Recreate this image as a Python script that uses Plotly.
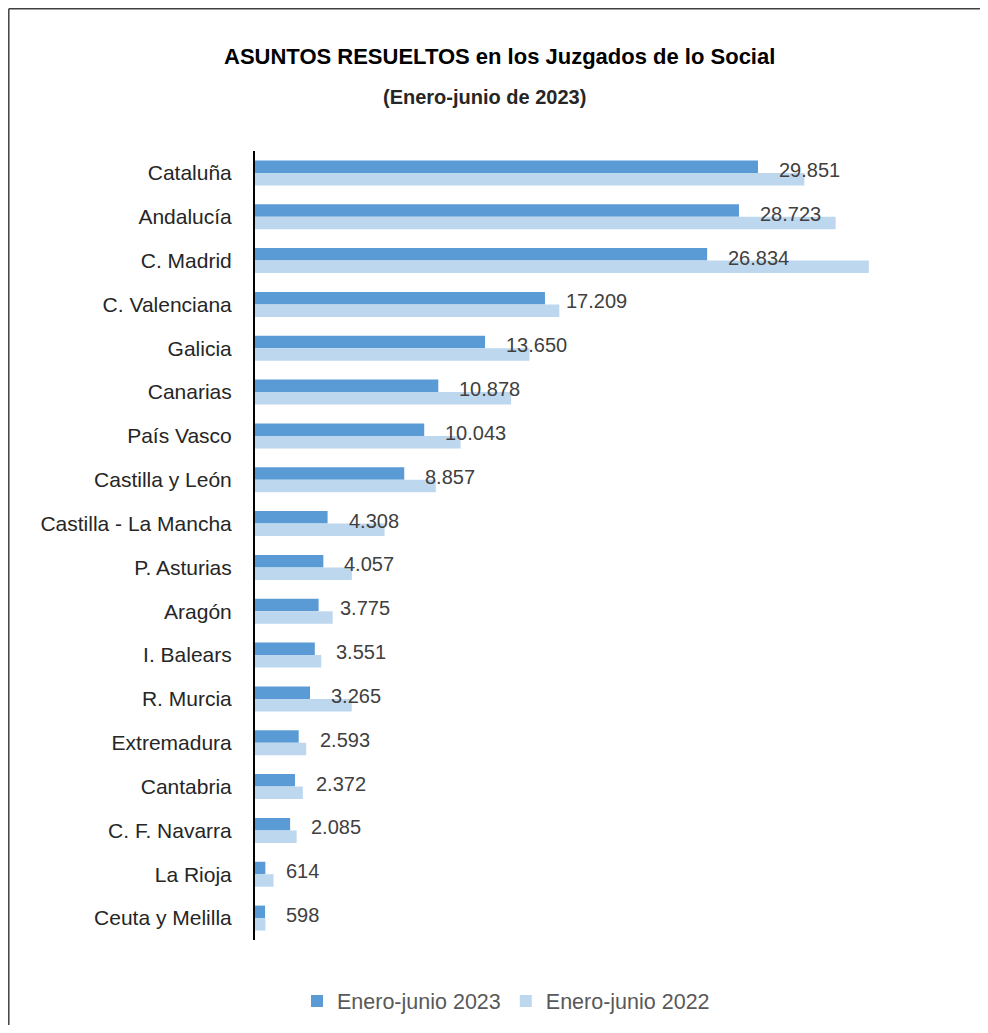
import plotly.graph_objects as go

categories = ["Cataluña", "Andalucía", "C. Madrid", "C. Valenciana", "Galicia", "Canarias",
              "País Vasco", "Castilla y León", "Castilla - La Mancha", "P. Asturias", "Aragón",
              "I. Balears", "R. Murcia", "Extremadura", "Cantabria", "C. F. Navarra",
              "La Rioja", "Ceuta y Melilla"]
v2023 = [29851, 28723, 26834, 17209, 13650, 10878, 10043, 8857, 4308, 4057, 3775,
         3551, 3265, 2593, 2372, 2085, 614, 598]
v2022 = [32600, 34460, 36430, 18060, 16290, 15200, 12200, 10730, 7690, 5750, 4610,
         3930, 5740, 3040, 2840, 2470, 1100, 620]
labels2023 = ["29.851", "28.723", "26.834", "17.209", "13.650", "10.878", "10.043", "8.857",
              "4.308", "4.057", "3.775", "3.551", "3.265", "2.593", "2.372", "2.085", "614", "598"]

# page is offset by 8px body margin
OFF = 8
W, H = 972, 1017
L, T = 255 - OFF, 151 - OFF
R, B = W - (929 - OFF), H - (940 - OFF)
pw, ph = W - L - R, H - T - B


def px(xpage):
    return (xpage - OFF - L) / pw


def py(ypage):
    return (H - B - (ypage - OFF)) / ph


FONT = "Liberation Sans, Arial, sans-serif"

fig = go.Figure()
fig.add_trace(go.Bar(y=categories, x=v2023, orientation="h", name="Enero-junio 2023",
                     marker=dict(color="#5B9BD5", line=dict(width=0))))
fig.add_trace(go.Bar(y=categories, x=v2022, orientation="h", name="Enero-junio 2022",
                     marker=dict(color="#BDD7EE", line=dict(width=0))))

annotations = []
for c, v, t in zip(categories, v2023, labels2023):
    annotations.append(dict(x=v, y=c, xref="x", yref="y", text=t, showarrow=False,
                            xanchor="left", yanchor="middle", xshift=19, yshift=3,
                            font=dict(size=20, color="#404040", family=FONT)))

annotations.append(dict(x=px(499), y=py(57), xref="paper", yref="paper",
                        text="<b>ASUNTOS RESUELTOS en los Juzgados de lo Social</b>",
                        showarrow=False, xanchor="center", yanchor="middle",
                        font=dict(size=22, color="#000000", family=FONT)))
annotations.append(dict(x=px(484), y=py(97), xref="paper", yref="paper",
                        text="<b>(Enero-junio de 2023)</b>",
                        showarrow=False, xanchor="center", yanchor="middle",
                        font=dict(size=20, color="#262626", family=FONT)))

shapes = [
    dict(type="line", xref="paper", yref="paper",
         x0=px(8.8), x1=px(1100), y0=py(8.8), y1=py(8.8),
         line=dict(color="#404040", width=1.5)),
    dict(type="line", xref="paper", yref="paper",
         x0=px(8.8), x1=px(8.8), y0=py(8.8), y1=py(1100),
         line=dict(color="#404040", width=1.5)),
]

fig.update_layout(
    width=W, height=H,
    margin=dict(l=L, r=R, t=T, b=B, pad=0, autoexpand=False),
    paper_bgcolor="white", plot_bgcolor="white",
    barmode="group", bargap=0.43, bargroupgap=0,
    font=dict(family=FONT, size=20, color="#262626"),
    showlegend=True,
    legend=dict(orientation="h", x=px(506), y=py(1001),
                xanchor="center", yanchor="middle",
                font=dict(size=21.5, color="#595959", family=FONT),
                traceorder="normal", itemwidth=30),
    annotations=annotations,
    shapes=shapes,
)
fig.update_xaxes(range=[0, 40000], showgrid=False, zeroline=False, showticklabels=False,
                 showline=False, ticks="")
fig.update_yaxes(autorange="reversed", showgrid=False, zeroline=False, ticks="",
                 showline=True, linecolor="#000000", linewidth=2,
                 ticklabelstandoff=17,
                 tickfont=dict(size=21, color="#262626", family=FONT))

fig.write_html("out.html")
